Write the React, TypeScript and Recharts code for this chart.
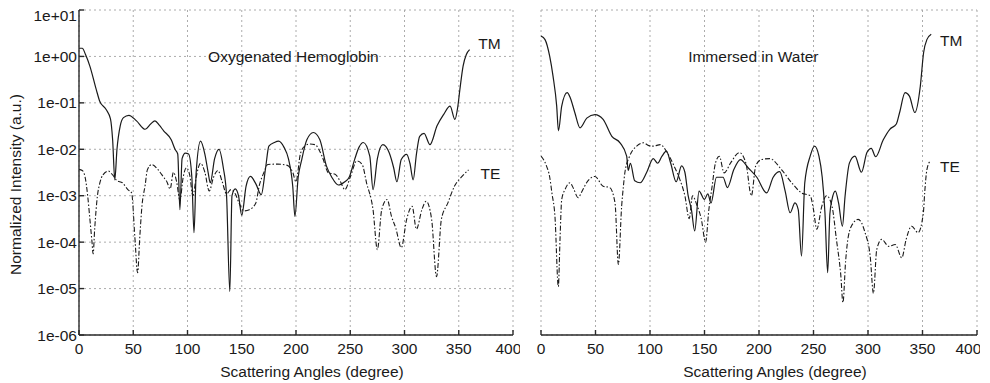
import React from 'react';
import { LineChart, Line, XAxis, YAxis, CartesianGrid, ReferenceDot } from 'recharts';

const angleTicks = [0, 50, 100, 150, 200, 250, 300, 350, 400];
const intensityTicks = [1e-6, 1e-5, 1e-4, 1e-3, 1e-2, 1e-1, 1, 10];
const intensityTickLabels = ['1e-06', '1e-05', '1e-04', '1e-03', '1e-02', '1e-01', '1e+00', '1e+01'];

// Oxygenated hemoglobin - TM (solid)
const hbTmAngles = [0, 3, 6, 10, 16, 19, 25, 29, 31, 33,
  35, 38, 41, 46, 53, 61, 66, 70, 74, 78,
  85, 88.5, 91, 93, 95, 98, 101, 104, 106, 108,
  112, 116, 119, 121, 125, 129, 133, 136, 139, 141,
  144, 147, 150, 154, 158, 163, 168, 172, 175, 180,
  184, 189, 193, 197, 199, 202, 205, 210, 216, 222,
  228, 233, 239, 245, 249, 254, 258, 262, 268, 271,
  275, 280, 286, 290, 293, 297, 302, 305, 308, 311,
  314, 318, 323.5, 330, 336, 342, 346.5, 349, 351, 354,
  357, 360];
const hbTmValues = [1.5, 1.5, 1.1, 0.62, 0.19, 0.11, 0.072, 0.045, 0.016, 2.2e-3,
  0.01, 0.032, 0.048, 0.054, 0.041, 0.027, 0.035, 0.041, 0.033, 0.025,
  0.016, 0.01, 7.9e-3, 5e-4, 6.3e-3, 8.3e-3, 7.9e-3, 2.5e-3, 1.6e-4, 3.2e-3,
  0.015, 7.9e-3, 3.2e-3, 1.9e-3, 6.3e-3, 0.01, 4e-3, 1e-3, 8.7e-6, 1e-3,
  1.4e-3, 1e-3, 3.8e-4, 1.6e-3, 2.6e-3, 1.8e-3, 1.05e-3, 4e-3, 0.0117, 0.014,
  0.015, 0.011, 6.3e-3, 1.6e-3, 3.6e-4, 2.5e-3, 5.6e-3, 0.016, 0.023, 0.016,
  4.4e-3, 2.5e-3, 1.7e-3, 2e-3, 2.5e-3, 6e-3, 0.011, 0.014, 7.1e-3, 1.35e-3,
  6.3e-3, 0.0126, 8.3e-3, 4e-3, 2e-3, 6e-3, 7.8e-3, 5e-3, 2.2e-3, 7.9e-3,
  0.019, 0.022, 0.0126, 0.032, 0.056, 0.085, 0.044, 0.079, 0.19, 0.62,
  1.1, 1.4];

// Oxygenated hemoglobin - TE (dash-dot)
const hbTeAngles = [0, 3, 5.5, 8, 10, 12, 13, 14.5, 17, 19,
  22, 27, 31, 35, 40, 45, 48.5, 51.5, 54, 56,
  58, 61, 63, 67, 73, 78, 81, 84, 87, 90,
  93, 96, 99, 102, 105, 108, 112, 116, 120, 124,
  128, 132, 136, 140, 144, 147.5, 152, 157, 163, 166,
  170.5, 174, 183, 192, 197, 200, 204, 208, 213, 217.5,
  224, 230, 236, 241, 245, 250, 256, 261, 265, 271,
  275, 279, 284, 288, 292, 297, 302, 307, 311, 316,
  320, 325, 329.5, 334, 340, 346, 353, 359];
const hbTeValues = [3.7e-3, 3.5e-3, 2.6e-3, 1e-3, 3.2e-4, 1e-4, 5.6e-5, 2e-4, 1e-3, 1.8e-3,
  2.8e-3, 3.4e-3, 2.8e-3, 2.1e-3, 1.9e-3, 1.35e-3, 1.15e-3, 1.26e-4, 2.2e-5, 1.26e-4,
  5.9e-4, 1.7e-3, 3.6e-3, 4.7e-3, 3.6e-3, 2.5e-3, 2e-3, 1.4e-3, 3.2e-3, 2e-3,
  7.9e-4, 2.5e-3, 4e-3, 2.8e-3, 1e-3, 2.5e-3, 5e-3, 3.2e-3, 1.26e-3, 2.5e-3,
  3.5e-3, 2e-3, 1.1e-3, 1.35e-3, 1.1e-3, 7e-4, 4.7e-4, 5e-4, 7e-4, 1.6e-3,
  3.2e-3, 4.7e-3, 4.8e-3, 4.5e-3, 3.2e-3, 2e-3, 7.9e-3, 0.0117, 0.013, 0.0126,
  7.1e-3, 3.1e-3, 2.9e-3, 2e-3, 1.35e-3, 2.5e-3, 5.6e-3, 4.7e-3, 1.9e-3, 5e-4,
  6.9e-5, 5e-4, 8.3e-4, 3.6e-4, 2e-4, 7.6e-5, 3.1e-4, 5.9e-4, 1.9e-4, 5e-4,
  7.6e-4, 3.1e-4, 1.8e-5, 3.1e-4, 7e-4, 1.6e-3, 2.6e-3, 3.6e-3];

// Immersed in water - TM (solid)
const waterTmAngles = [0, 3.7, 8, 11, 14.4, 16, 19, 24, 27, 31,
  35.8, 42, 49.5, 57, 65, 72.5, 78.6, 80, 82, 86,
  91, 97, 103, 107, 111, 115, 119, 124, 129, 132,
  135, 138, 141, 145, 150, 153, 156, 161, 167, 171,
  177, 183, 190, 198, 207, 213, 219, 224, 228.5, 233,
  236, 239, 242, 247, 251, 255, 258, 260.5, 263, 265,
  267, 270, 273, 276.5, 279, 283, 288, 294, 299, 303,
  307, 314, 320, 326, 329, 334, 338, 343, 348, 351,
  354, 358];
const waterTmValues = [2.75, 2.3, 1.0, 0.38, 0.085, 0.025, 0.085, 0.166, 0.126, 0.062,
  0.029, 0.047, 0.056, 0.044, 0.019, 0.0138, 7.1e-3, 3.5e-3, 5e-3, 2.1e-3,
  1.9e-3, 3.2e-3, 6.3e-3, 5e-3, 7.1e-3, 9.1e-3, 5e-3, 2e-3, 4.4e-3, 3.2e-3,
  1e-3, 5e-4, 1.74e-4, 1.26e-3, 8.3e-4, 1.1e-3, 7e-4, 2.5e-3, 2.5e-3, 1.5e-3,
  3.7e-3, 6e-3, 4e-3, 2.5e-3, 1.15e-3, 2.5e-3, 3.3e-3, 1.26e-3, 4.3e-4, 7e-4,
  5e-4, 5e-5, 1.9e-3, 7.2e-3, 0.0117, 7.1e-3, 2.5e-3, 4.3e-4, 2.2e-5, 4e-4,
  8.3e-4, 1.26e-3, 7e-4, 2.2e-4, 1e-3, 5.1e-3, 7.1e-3, 3.2e-3, 8.5e-3, 0.0105,
  6.9e-3, 0.016, 0.027, 0.035, 0.062, 0.166, 0.14, 0.062, 0.23, 1.2,
  2.3, 3.0];

// Immersed in water - TE (dash-dot)
const waterTeAngles = [0, 5, 8, 10, 12.8, 15.9, 17.5, 19, 22, 26.6,
  30, 34, 38, 41.8, 49.5, 57, 63, 67.9, 71, 74,
  75.6, 77, 81.3, 87.8, 94, 99, 103, 109.5, 116, 122,
  127.5, 132, 136, 139, 143, 147, 151, 154, 157, 160,
  163.6, 168, 174, 182, 188, 193, 197, 202, 210, 220.8,
  230, 239, 247, 250, 253, 257.6, 262, 267, 271, 275,
  277, 279.5, 282, 286.6, 291, 297.3, 302, 305, 308, 312.6,
  319, 325, 331, 335, 340, 346, 350.8, 352, 354, 357];
const waterTeValues = [7.1e-3, 4.4e-3, 2.5e-3, 1.15e-3, 3.6e-4, 1.1e-5, 1.26e-4, 8.3e-4, 1.35e-3, 1.9e-3,
  1.4e-3, 9.1e-4, 1.3e-3, 1.9e-3, 2.6e-3, 1.6e-3, 1.5e-3, 7e-4, 3.3e-5, 6e-4,
  1.6e-3, 3.2e-3, 7.1e-3, 0.0117, 0.0138, 0.012, 0.0117, 0.0126, 8.3e-3, 4.4e-3,
  2.2e-3, 1e-3, 3.2e-4, 1e-3, 6.3e-4, 3.2e-4, 1e-4, 5e-4, 1.6e-3, 5e-3,
  7.1e-3, 3.1e-3, 5.1e-3, 8.5e-3, 5e-3, 1e-3, 4.4e-3, 6e-3, 6.3e-3, 3.6e-3,
  1.9e-3, 1.15e-3, 1e-3, 5e-4, 1.9e-4, 5.9e-4, 1e-3, 5.9e-4, 1.15e-4, 2e-5,
  5e-6, 4e-5, 1.35e-4, 2.6e-4, 3.1e-4, 1.6e-4, 5e-5, 7.9e-6, 6.9e-5, 1.15e-4,
  8.1e-5, 8.9e-5, 4.6e-5, 1.15e-4, 2.2e-4, 1.6e-4, 4.3e-4, 1.15e-3, 3.6e-3, 5.6e-3];

const FONT = '"Liberation Sans", Arial, Helvetica, sans-serif';
const INK = '#1a1a1a';
const FS = 15.5;

const toPoints = (angles: number[], values: number[]) =>
  angles.map((angle, i) => ({ angle, value: values[i] }));

function YTick({ x, y, payload }: any) {
  const i = intensityTicks.findIndex((t) => Math.abs(Math.log10(t) - Math.log10(payload.value)) < 0.01);
  // matlab nudges the top label down to keep it inside
  const shift = i === intensityTicks.length - 1 ? 5 : 0;
  return (
    <text x={x} y={y + shift} dy="0.355em" textAnchor="end" fill={INK} fontSize={FS}>
      {intensityTickLabels[i]}
    </text>
  );
}

const xTitle = (props: any) => {
  const vb = props.viewBox || props;
  return (
    <text x={vb.x + vb.width / 2 + 16} y={vb.y + 42} textAnchor="middle" fill={INK} fontSize={FS}>
      Scattering Angles (degree)
    </text>
  );
};

const yTitle = (props: any) => {
  const vb = props.viewBox || props;
  const cx = vb.x + 21;
  const cy = vb.y + vb.height / 2 + 12;
  return (
    <text x={cx} y={cy} transform={`rotate(-90, ${cx}, ${cy})`} textAnchor="middle" fill={INK} fontSize={FS}>
      Normalized Intensity (a.u.)
    </text>
  );
};

const note = (value: string) => ({ value, position: 'right' as const, offset: 0, fill: INK, fontSize: FS });

function Panel({ left, width, margin, yAxisWidth, showYText, tm, te, title, titleAt, tmAt, teAt }: any) {
  return (
    <div style={{ position: 'absolute', left, top: 0 }}>
      <LineChart width={width} height={383} margin={margin}>
        <CartesianGrid stroke="#a3a3a3" strokeDasharray="2 3" strokeWidth={0.9} />
        <XAxis type="number" dataKey="angle" domain={[0, 400]} ticks={angleTicks} allowDataOverflow
          height={48} stroke="#2a2a2a" strokeWidth={1.4} tickSize={-5} tickMargin={13}
          tick={{ fill: INK, fontSize: FS }} label={xTitle} />
        <XAxis xAxisId="top" orientation="top" type="number" domain={[0, 400]} ticks={angleTicks}
          allowDataOverflow height={0} stroke="#3a3a3a" strokeWidth={1.2} tickSize={-5} tick={false} />
        <YAxis type="number" scale="log" domain={[1e-6, 10]} ticks={intensityTicks} allowDataOverflow
          width={yAxisWidth} stroke="#2a2a2a" strokeWidth={1.4} tickSize={-5} tickMargin={7}
          tick={showYText ? <YTick /> : false} label={showYText ? yTitle : undefined} />
        <YAxis yAxisId="right" orientation="right" type="number" scale="log" domain={[1e-6, 10]}
          ticks={intensityTicks} allowDataOverflow width={0} stroke="#555" tickSize={-5} tick={false} />
        <Line data={te} dataKey="value" type="monotone" stroke={INK} strokeWidth={1.1}
          strokeDasharray="5 2 1.5 2" dot={false} isAnimationActive={false} />
        <Line data={tm} dataKey="value" type="monotone" stroke={INK} strokeWidth={1.2}
          dot={false} isAnimationActive={false} />
        <ReferenceDot x={titleAt[0]} y={titleAt[1]} r={0} fill="none" stroke="none" label={note(title)} />
        <ReferenceDot x={tmAt[0]} y={tmAt[1]} r={0} fill="none" stroke="none" label={note('TM')} />
        <ReferenceDot x={teAt[0]} y={teAt[1]} r={0} fill="none" stroke="none" label={note('TE')} />
      </LineChart>
    </div>
  );
}

export default function App() {
  return (
    <div style={{ position: 'absolute', left: 0, top: 0, width: 990, height: 383, background: '#fff', fontFamily: FONT, overflow: 'hidden' }}>
      <Panel left={0} width={520} margin={{ top: 10, right: 7, bottom: 0, left: 0 }} yAxisWidth={79} showYText
        tm={toPoints(hbTmAngles, hbTmValues)} te={toPoints(hbTeAngles, hbTeValues)}
        title="Oxygenated Hemoglobin" titleAt={[119, 1]} tmAt={[368, 1.9]} teAt={[370, 3e-3]} />
      <Panel left={530} width={450} margin={{ top: 10, right: 3, bottom: 0, left: 11 }} yAxisWidth={0} showYText={false}
        tm={toPoints(waterTmAngles, waterTmValues)} te={toPoints(waterTeAngles, waterTeValues)}
        title="Immersed in Water" titleAt={[135, 1]} tmAt={[366, 2.2]} teAt={[366, 4.2e-3]} />
    </div>
  );
}
